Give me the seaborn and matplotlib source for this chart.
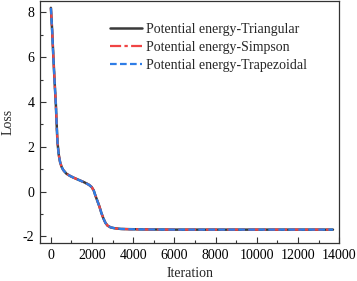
import matplotlib
matplotlib.use("Agg")
import matplotlib.pyplot as plt
from matplotlib.ticker import MultipleLocator
import pandas as pd
import seaborn as sns

# values (all three methods overlap)
iteration = [0, 60, 120, 180, 240, 280, 320, 380, 450, 520, 600, 750, 925,
             1100, 1400, 1650, 1850, 1980, 2080, 2150, 2250, 2350, 2450,
             2550, 2650, 2750, 2900, 3100, 3400, 3800, 4500, 6000, 8000,
             10000, 12000, 13700]
loss = [8.2, 7.2, 6.0, 4.9, 3.9, 3.0, 2.2, 1.65, 1.3, 1.1, 0.96, 0.8, 0.7,
        0.62, 0.5, 0.4, 0.3, 0.2, 0.05, -0.15, -0.4, -0.65, -0.95,
        -1.2, -1.4, -1.52, -1.6, -1.64, -1.67, -1.68, -1.69, -1.7, -1.7,
        -1.7, -1.7, -1.7]
methods = ["Potential energy-Triangular", "Potential energy-Simpson",
           "Potential energy-Trapezoidal"]

sns.set_style("ticks")
plt.rcParams["font.family"] = ["Liberation Serif", "DejaVu Serif"]
plt.rcParams["axes.unicode_minus"] = False
plt.rcParams["font.size"] = 10

df = pd.concat([pd.DataFrame({"Iteration": iteration, "Loss": loss, "method": m})
                for m in methods])

fig = plt.figure(figsize=(3.57, 2.81), dpi=100)
ax = fig.add_axes([0.112, 0.135, 0.838, 0.861])

styles = {
    methods[0]: dict(color="#3a3a3a", linestyle="-", linewidth=1.8),
    methods[1]: dict(color="#f04444", linestyle=(0, (5, 1.5, 1.5, 1.5)), linewidth=1.6),
    methods[2]: dict(color="#2f7de6", linestyle=(0, (3, 1.5)), linewidth=1.6),
}
for m in methods:
    sns.lineplot(data=df[df["method"] == m], x="Iteration", y="Loss",
                 label=m, ax=ax, **styles[m])

ax.set_xlim(-530, 14000)
ax.set_ylim(-2.3, 8.5)
ax.xaxis.set_major_locator(MultipleLocator(2000))
ax.xaxis.set_minor_locator(MultipleLocator(1000))
ax.yaxis.set_major_locator(MultipleLocator(2))
ax.yaxis.set_minor_locator(MultipleLocator(1))
ax.tick_params(which="both", direction="in", colors="#333333", labelcolor="black")
ax.tick_params(which="major", length=4, width=0.8, labelsize=10, pad=4)
ax.tick_params(which="minor", length=2.5, width=0.8)
for s in ax.spines.values():
    s.set_color("#333333")
    s.set_linewidth(0.9)

ax.set_xlabel("Iteration", fontsize=10)
ax.set_ylabel("Loss", fontsize=10)
ax.xaxis.set_label_coords(0.5, -0.097)
ax.yaxis.set_label_coords(-0.085, 0.5)

ax.legend(loc="upper left", bbox_to_anchor=(0.234, 0.91), frameon=False,
          fontsize=10, handlelength=2.3, handletextpad=0.3, labelspacing=0.35,
          borderpad=0, borderaxespad=0)

fig.savefig("out.png", dpi=100)
